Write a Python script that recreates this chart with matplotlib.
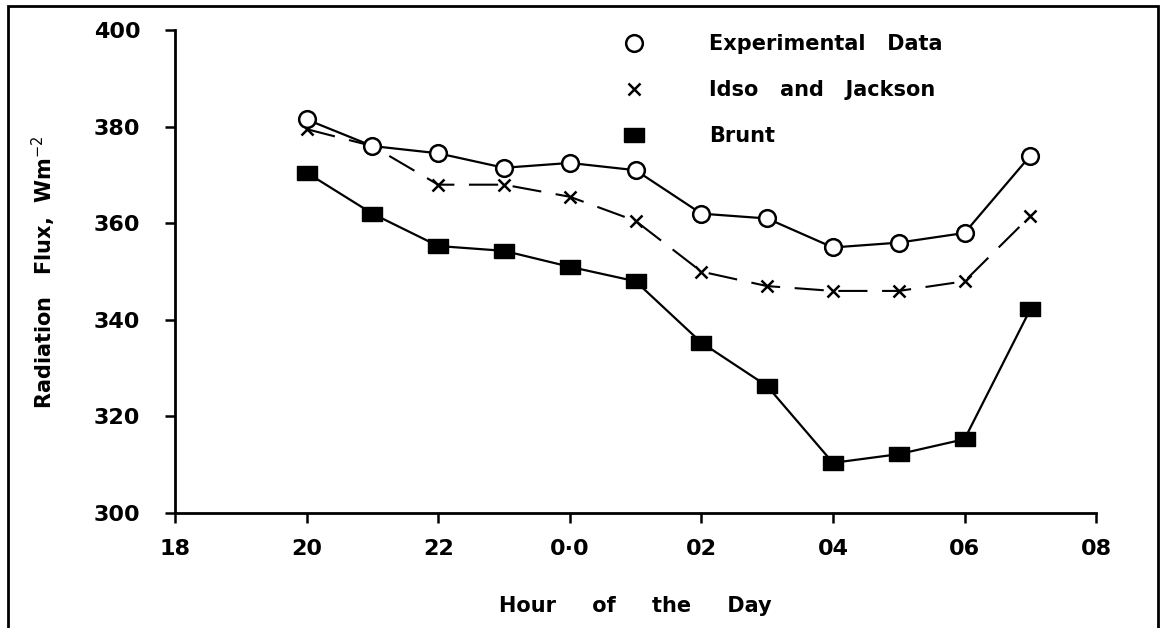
import matplotlib
matplotlib.use("Agg")
from matplotlib import pyplot as plt
from matplotlib.lines import Line2D
from matplotlib.patches import Rectangle

# hour of the day, 24 and beyond are after midnight
hours = [20, 21, 22, 23, 24, 25, 26, 27, 28, 29, 30, 31]
experimental = [381.5, 376, 374.5, 371.5, 372.5, 371, 362, 361, 355, 356, 358, 374]
idso_jackson = [379.5, 376, 368, 368, 365.5, 360.5, 350, 347, 346, 346, 348, 361.5]
brunt = [370.5, 362, 355.3, 354.3, 351, 348, 335.3, 326.3, 310.4, 312.2, 315.3, 342.2]

tick_pos = [18, 20, 22, 24, 26, 28, 30, 32]
tick_labels = ["18", "20", "22", "0·0", "02", "04", "06", "08"]
y_ticks = [300, 320, 340, 360, 380, 400]

plt.rcParams['font.family'] = ['DejaVu Sans']

# slightly flat box used for the Brunt points
flat_box = [(-1.4, -1), (1.4, -1), (1.4, 1), (-1.4, 1), (-1.4, -1)]

fig = plt.figure(figsize=(11.63, 6.28), dpi=100)
ax = fig.add_axes([0.1505, 0.183, 0.792, 0.769])

ax.plot(hours, experimental, color='black', linewidth=1.6, marker='o',
        markersize=12, markerfacecolor='white', markeredgecolor='black',
        markeredgewidth=1.8, zorder=3)
ax.plot(hours, idso_jackson, color='black', linewidth=1.5, dashes=(14, 7),
        marker='x', markersize=8, markeredgewidth=1.8, zorder=2)
ax.plot(hours, brunt, color='black', linewidth=1.6, marker=flat_box,
        markersize=14, markerfacecolor='black', zorder=2)

ax.set_xlim(18, 32)
ax.set_ylim(300, 400)
ax.set_xticks(tick_pos)
ax.set_xticklabels(tick_labels)
ax.set_yticks(y_ticks)

for side in ['top', 'right']:
    ax.spines[side].set_visible(False)
for side in ['left', 'bottom']:
    ax.spines[side].set_linewidth(2.0)

ax.tick_params(axis='both', direction='out', length=7, width=1.8,
               labelsize=16)
ax.tick_params(axis='y', pad=18)
ax.tick_params(axis='x', pad=12)
for lab in ax.get_xticklabels() + ax.get_yticklabels():
    lab.set_fontweight('bold')

ax.set_xlabel("Hour     of     the     Day", fontsize=15, fontweight='bold',
              labelpad=26)
ax.set_ylabel("Radiation   Flux,  Wm$^{-2}$", fontsize=15, fontweight='bold',
              labelpad=26)

handles = [
    Line2D([], [], linestyle='none', marker='o', markersize=12,
           markerfacecolor='white', markeredgecolor='black', markeredgewidth=1.8),
    Line2D([], [], linestyle='none', marker='x', markersize=8,
           markeredgecolor='black', markeredgewidth=1.8),
    Line2D([], [], linestyle='none', marker=flat_box, markersize=14,
           markerfacecolor='black', markeredgecolor='black'),
]
labels = ["Experimental   Data", "Idso   and   Jackson", "Brunt"]
leg = ax.legend(handles, labels, loc='upper left', bbox_to_anchor=(0.455, 1.03),
                frameon=False, handletextpad=2.6, labelspacing=1.25,
                prop={'size': 15, 'weight': 'bold'})

# border around the whole picture
fig.patches.append(Rectangle((8 / 1163, -0.02), 1150 / 1163, 1.0 - 6 / 628 + 0.02,
                             transform=fig.transFigure, fill=False,
                             edgecolor='black', linewidth=2))

fig.savefig("out.png", dpi=100)
